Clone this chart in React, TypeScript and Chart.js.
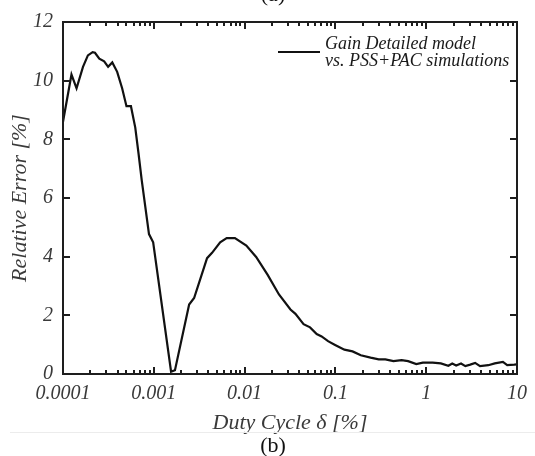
import React, { useEffect, useRef } from "react";
import { Chart, registerables } from "chart.js";

Chart.register(...registerables);

const dutyCycle = [
  0.0001, 0.000124, 0.000141, 0.000166, 0.000188, 0.000212, 0.000225, 0.000251,
  0.000284, 0.000314, 0.000349, 0.000395, 0.000448, 0.0005, 0.00056, 0.000625,
  0.00068, 0.000736, 0.000885, 0.000984, 0.00155, 0.00171, 0.00245, 0.00278,
  0.00386, 0.00438, 0.00538, 0.00635, 0.00782, 0.01045, 0.0134, 0.01795, 0.0239,
  0.032, 0.0363, 0.0446, 0.0526, 0.0622, 0.0705, 0.083, 0.098, 0.1256, 0.1545,
  0.1905, 0.244, 0.3, 0.355, 0.4355, 0.536, 0.632, 0.778, 0.918, 1.178, 1.449,
  1.754, 1.936, 2.138, 2.42, 2.698, 3.055, 3.459, 3.917, 4.83, 5.69, 7.0, 7.8,
  9.33, 10,
];

const relError = [
  8.6, 10.21, 9.74, 10.47, 10.86, 10.97, 10.95, 10.75, 10.66, 10.47, 10.62, 10.3,
  9.74, 9.13, 9.13, 8.4, 7.5, 6.61, 4.77, 4.49, 0.08, 0.13, 2.37, 2.59, 3.95,
  4.13, 4.49, 4.63, 4.63, 4.38, 3.99, 3.38, 2.71, 2.2, 2.05, 1.7, 1.59, 1.36,
  1.28, 1.12, 1.0, 0.83, 0.77, 0.64, 0.56, 0.5, 0.5, 0.44, 0.47, 0.44, 0.34,
  0.39, 0.39, 0.36, 0.28, 0.36, 0.29, 0.36, 0.27, 0.32, 0.38, 0.27, 0.3, 0.36,
  0.41, 0.3, 0.32, 0.33,
];

const yTicks = [0, 2, 4, 6, 8, 10, 12];
const xTicks = [0.0001, 0.001, 0.01, 0.1, 1, 10];
const xTickLabels = ["0.0001", "0.001", "0.01", "0.1", "1", "10"];
const xTitle = "Duty Cycle δ [%]";
const yTitle = "Relative Error [%]";
const legendLines = ["Gain Detailed model", "vs. PSS+PAC simulations"];
const topCaption = "(a)";
const bottomCaption = "(b)";

const SERIF = "'Liberation Serif', 'Times New Roman', serif";

const decorPlugin = {
  id: "decor",
  afterDraw(chart: any) {
    const { ctx, chartArea: a, scales } = chart;
    const x = scales.x;
    const y = scales.y;
    ctx.save();
    // frame
    ctx.strokeStyle = "#1e1e1e";
    ctx.lineWidth = 2;
    ctx.strokeRect(a.left, a.top, a.right - a.left, a.bottom - a.top);
    // y ticks inward (left & right)
    ctx.beginPath();
    for (const v of yTicks) {
      const py = Math.round(y.getPixelForValue(v));
      ctx.moveTo(a.left, py);
      ctx.lineTo(a.left + 7, py);
      ctx.moveTo(a.right, py);
      ctx.lineTo(a.right - 7, py);
    }
    // x ticks (major + minor) on bottom & top
    const lo = Math.log10(xTicks[0]);
    const hi = Math.log10(xTicks[xTicks.length - 1]);
    for (let d = lo; d <= hi; d++) {
      for (let m = 1; m <= 9; m++) {
        const v = m * Math.pow(10, d);
        if (d === hi && m > 1) break;
        const px = Math.round(x.getPixelForValue(v));
        const len = m === 1 ? 7 : 4;
        ctx.moveTo(px, a.bottom);
        ctx.lineTo(px, a.bottom - len);
        ctx.moveTo(px, a.top);
        ctx.lineTo(px, a.top + len);
      }
    }
    ctx.stroke();

    // legend
    ctx.strokeStyle = "#111";
    ctx.lineWidth = 2;
    ctx.beginPath();
    ctx.moveTo(278, 52);
    ctx.lineTo(320, 52);
    ctx.stroke();
    ctx.fillStyle = "#1a1a1a";
    ctx.font = `italic 18px ${SERIF}`;
    ctx.textAlign = "left";
    ctx.textBaseline = "middle";
    ctx.fillText(legendLines[0], 325, 44);
    ctx.fillText(legendLines[1], 325, 61);

    // captions
    ctx.font = `22px ${SERIF}`;
    ctx.textAlign = "center";
    ctx.textBaseline = "alphabetic";
    ctx.fillStyle = "#111";
    ctx.fillText(topCaption, 273, 1);
    ctx.fillText(bottomCaption, 273, 452);

    // faint separator
    ctx.strokeStyle = "#ececec";
    ctx.lineWidth = 1;
    ctx.beginPath();
    ctx.moveTo(10, 432.5);
    ctx.lineTo(535, 432.5);
    ctx.stroke();
    ctx.restore();
  },
};

export default function App() {
  const ref = useRef<HTMLCanvasElement | null>(null);

  useEffect(() => {
    if (!ref.current) return;
    const points = dutyCycle.map((d, i) => ({ x: d, y: relError[i] }));
    const chart = new Chart(ref.current, {
      type: "line",
      data: {
        datasets: [
          {
            label: legendLines.join(" "),
            data: points,
            borderColor: "#111",
            borderWidth: 2.2,
            pointRadius: 0,
            tension: 0,
            fill: false,
          },
        ],
      },
      options: {
        responsive: false,
        animation: false,
        devicePixelRatio: 1,
        layout: { padding: { left: 0, top: 16, right: 9, bottom: 0 } },
        plugins: {
          legend: { display: false },
          tooltip: { enabled: false },
          title: { display: false },
        },
        scales: {
          x: {
            type: "logarithmic",
            min: xTicks[0],
            max: xTicks[xTicks.length - 1],
            afterBuildTicks: (s: any) => {
              s.ticks = xTicks.map((v) => ({ value: v }));
            },
            afterFit: (s: any) => {
              s.height = 82;
            },
            grid: { display: false, drawTicks: false },
            border: { display: false },
            ticks: {
              autoSkip: false,
              maxRotation: 0,
              padding: 8,
              color: "#3a3a3a",
              font: { family: SERIF, size: 20, style: "italic" },
              callback: (v: any) => {
                const i = xTicks.indexOf(Number(v));
                return i >= 0 ? xTickLabels[i] : "";
              },
            },
            title: {
              display: true,
              text: xTitle,
              color: "#3a3a3a",
              font: { family: SERIF, size: 22, style: "italic" },
              padding: { top: 0, bottom: 20 },
            },
          },
          y: {
            type: "linear",
            min: yTicks[0],
            max: yTicks[yTicks.length - 1],
            afterBuildTicks: (s: any) => {
              s.ticks = yTicks.map((v) => ({ value: v }));
            },
            afterFit: (s: any) => {
              s.width = 63;
            },
            grid: { display: false, drawTicks: false },
            border: { display: false },
            ticks: {
              padding: 10,
              color: "#3a3a3a",
              font: { family: SERIF, size: 20, style: "italic" },
            },
            title: {
              display: true,
              text: yTitle,
              color: "#3a3a3a",
              font: { family: SERIF, size: 22, style: "italic" },
              padding: { top: 7, bottom: 0 },
            },
          },
        },
      },
      plugins: [decorPlugin],
    });
    return () => chart.destroy();
  }, []);

  return (
    <div
      style={{
        position: "fixed",
        left: 0,
        top: 0,
        width: 535,
        height: 456,
        background: "#fff",
      }}
    >
      <canvas ref={ref} width={535} height={456} />
    </div>
  );
}
